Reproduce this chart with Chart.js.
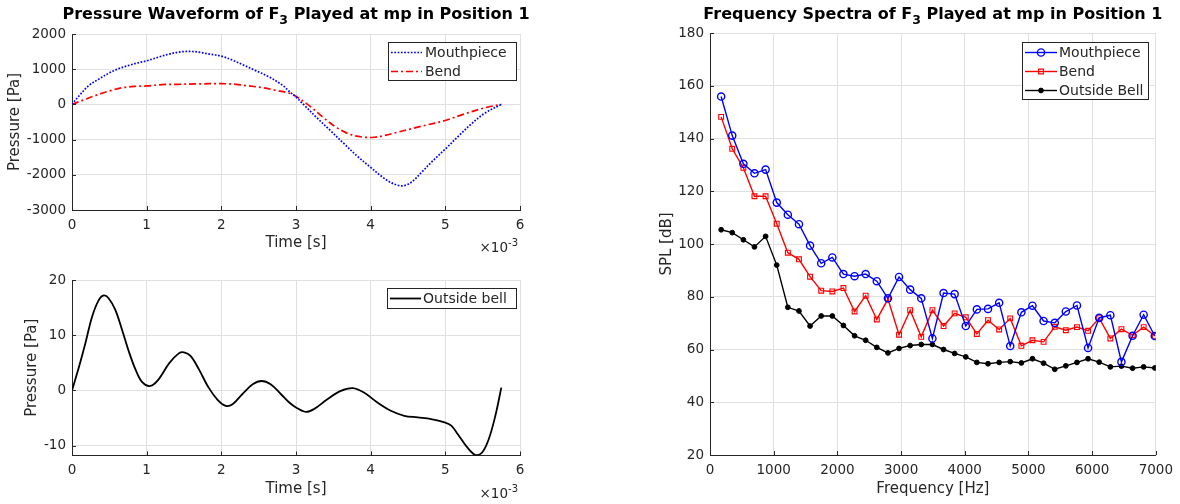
<!DOCTYPE html>
<html><head><meta charset="utf-8">
<script src="https://cdn.jsdelivr.net/npm/chart.js@4.4.1/dist/chart.umd.min.js"></script>
<style>
html,body{margin:0;padding:0;background:#fff}
body{width:1180px;height:504px;position:relative;overflow:hidden}
canvas{position:absolute}
</style></head><body>
<canvas id="ca" width="560" height="262" style="left:0;top:0"></canvas>
<canvas id="cb" width="560" height="242" style="left:0;top:262px"></canvas>
<canvas id="cc" width="580" height="504" style="left:600px;top:0"></canvas>
<script>
// ---------- DATA ----------
// time axis in units of 1e-3 s (as labelled ×10^-3)
const timeTicks = [0, 1, 2, 3, 4, 5, 6];
const pressureTicksTop = [-3000, -2000, -1000, 0, 1000, 2000];
const pressureTicksBottom = [-10, 0, 10, 20];
const freqTicks = [0, 1000, 2000, 3000, 4000, 5000, 6000, 7000];
const splTicks = [20, 40, 60, 80, 100, 120, 140, 160, 180];

const tMouth = [0, 0.1, 0.23, 0.37, 0.5, 0.63, 0.77, 0.9, 1.0, 1.17, 1.3, 1.43, 1.57, 1.7, 1.84, 2.0, 2.15, 2.28, 2.46, 2.64, 2.82, 2.92, 3.0, 3.1, 3.28, 3.46, 3.64, 3.82, 4.0, 4.15, 4.28, 4.42, 4.54, 4.68, 4.81, 5.0, 5.17, 5.35, 5.53, 5.75];
const pMouth = [0, 257, 543, 733, 895, 1019, 1114, 1190, 1238, 1352, 1429, 1486, 1505, 1486, 1429, 1371, 1257, 1133, 960, 781, 543, 352, 210, 0, -381, -743, -1110, -1470, -1790, -2050, -2230, -2314, -2219, -1933, -1648, -1267, -914, -552, -248, 0];

const tBend = [0, 0.14, 0.32, 0.5, 0.68, 0.86, 1.0, 1.21, 1.43, 1.66, 2.0, 2.19, 2.37, 2.55, 2.73, 2.9, 3.0, 3.19, 3.37, 3.55, 3.73, 3.91, 4.05, 4.18, 4.36, 4.54, 4.72, 5.0, 5.26, 5.53, 5.75];
const pBend = [0, 114, 257, 381, 476, 515, 525, 562, 571, 581, 590, 571, 524, 476, 400, 324, 229, -57, -381, -667, -857, -933, -933, -886, -790, -695, -600, -457, -267, -95, 0];

const tBell = [0, 0.09, 0.18, 0.27, 0.36, 0.425, 0.49, 0.58, 0.67, 0.76, 0.85, 0.94, 1.05, 1.16, 1.3, 1.43, 1.5, 1.59, 1.7, 1.83, 1.95, 2.06, 2.15, 2.28, 2.42, 2.54, 2.66, 2.8, 2.91, 3.0, 3.13, 3.24, 3.42, 3.6, 3.76, 3.91, 4.09, 4.27, 4.45, 4.63, 4.81, 4.99, 5.08, 5.17, 5.28, 5.4, 5.49, 5.58, 5.67, 5.75];
const pBell = [0, 4.1, 8.6, 13.4, 16.4, 17.2, 16.7, 14.6, 11.0, 7.1, 3.8, 1.5, 0.8, 2.0, 4.9, 6.7, 6.9, 6.2, 3.8, 0.5, -1.7, -2.8, -2.5, -0.7, 1.1, 1.7, 1.1, -0.7, -2.2, -3.1, -3.9, -3.4, -1.6, -0.1, 0.4, -0.4, -2.2, -3.7, -4.6, -4.9, -5.2, -5.8, -6.4, -8.0, -10.1, -11.7, -11.3, -8.9, -4.6, 0.5];

const freqHz = [175, 349, 524, 698, 873, 1048, 1222, 1397, 1571, 1746, 1921, 2095, 2270, 2444, 2619, 2794, 2968, 3143, 3317, 3492, 3667, 3841, 4016, 4190, 4365, 4540, 4714, 4889, 5063, 5238, 5413, 5587, 5762, 5936, 6111, 6286, 6460, 6635, 6809, 6984];
const splMouth = [155.9, 141.1, 130.4, 126.8, 128.2, 115.7, 111.1, 107.5, 99.4, 92.7, 94.9, 88.6, 87.8, 88.6, 85.9, 79.4, 87.5, 82.7, 79.4, 64.2, 81.4, 81.0, 68.9, 75.2, 75.4, 77.7, 61.3, 74.1, 76.6, 70.8, 70.1, 74.4, 76.7, 60.6, 72.0, 73.0, 55.3, 65.2, 73.2, 65.1];
const splBend = [148.2, 136.1, 128.9, 118.1, 118.1, 107.7, 96.7, 94.2, 87.6, 82.3, 82.0, 83.3, 74.4, 80.4, 71.4, 79.1, 65.6, 74.9, 64.8, 74.9, 68.9, 73.7, 72.2, 65.9, 71.1, 67.6, 71.8, 61.4, 63.5, 62.9, 68.6, 67.3, 68.5, 67.1, 71.9, 64.2, 67.7, 65.4, 68.5, 65.2];
const splBell = [105.4, 104.3, 101.6, 98.9, 102.9, 92.0, 76.0, 74.6, 68.9, 72.7, 72.7, 69.1, 65.2, 63.5, 60.8, 58.7, 60.4, 61.5, 61.9, 61.9, 60.0, 58.5, 57.2, 55.1, 54.6, 55.1, 55.4, 54.9, 56.5, 54.8, 52.5, 53.8, 55.1, 56.5, 55.2, 53.4, 53.7, 52.9, 53.4, 53.0];

const titleWave = ['Pressure Waveform of F', '3', ' Played at mp in Position 1'];
const titleSpec = ['Frequency Spectra of F', '3', ' Played at mp in Position 1'];

// ---------- STYLE ----------
const FONT = "'DejaVu Sans', sans-serif";
const AX = '#262626';
const GRID = '#e0e0e0';
Chart.defaults.font.family = FONT;
Chart.defaults.color = AX;

const pts = (xs, ys) => xs.map((x, i) => ({x, y: ys[i]}));
const fixTicks = arr => (s => { s.ticks = arr.map(v => ({value: v})); });

const titlePlugin = {
  id: 'subTitle',
  afterDraw(chart, a, o) {
    if (!o.parts) return;
    const ctx = chart.ctx, ca = chart.chartArea;
    const fMain = `bold ${o.size}px ${FONT}`, fSub = `bold ${o.subSize}px ${FONT}`;
    ctx.save();
    ctx.fillStyle = '#000';
    ctx.textBaseline = 'alphabetic';
    ctx.font = fMain; const w0 = ctx.measureText(o.parts[0]).width, w2 = ctx.measureText(o.parts[2]).width;
    ctx.font = fSub; const w1 = ctx.measureText(o.parts[1]).width;
    let x = (ca.left + ca.right) / 2 - (w0 + w1 + w2) / 2;
    ctx.textAlign = 'left';
    ctx.font = fMain; ctx.fillText(o.parts[0], x, o.y); x += w0;
    ctx.font = fSub; ctx.fillText(o.parts[1], x, o.y + o.subDrop); x += w1;
    ctx.font = fMain; ctx.fillText(o.parts[2], x, o.y);
    ctx.restore();
  }
};

const expPlugin = {
  id: 'expLabel',
  afterDraw(chart, a, o) {
    if (!o.show) return;
    const ctx = chart.ctx;
    ctx.save();
    ctx.fillStyle = AX; ctx.textBaseline = 'alphabetic'; ctx.textAlign = 'left';
    ctx.font = `13.5px ${FONT}`;
    const base = '\u00d710';
    const wb = ctx.measureText(base).width;
    ctx.font = `10px ${FONT}`;
    const ws = ctx.measureText('-3').width;
    const x0 = o.right - wb - ws;
    ctx.font = `13.5px ${FONT}`; ctx.fillText(base, x0, o.y);
    ctx.font = `10px ${FONT}`; ctx.fillText('-3', x0 + wb, o.y - 6);
    ctx.restore();
  }
};

const inTicks = {
  id: 'inTicks',
  afterDraw(chart) {
    const ctx = chart.ctx, ca = chart.chartArea, xs = chart.scales.x, ys = chart.scales.y;
    ctx.save(); ctx.strokeStyle = AX; ctx.lineWidth = 1; ctx.beginPath();
    xs.ticks.forEach(t => { const px = Math.round(xs.getPixelForValue(t.value)) + 0.5; ctx.moveTo(px, ca.bottom); ctx.lineTo(px, ca.bottom - 4); });
    ys.ticks.forEach(t => { const py = Math.round(ys.getPixelForValue(t.value)) + 0.5; ctx.moveTo(ca.left, py); ctx.lineTo(ca.left + 4, py); });
    ctx.stroke(); ctx.restore();
  }
};

const boxLegend = {
  id: 'boxLegend',
  afterDraw(chart, a, o) {
    const ctx = chart.ctx;
    ctx.save();
    ctx.fillStyle = '#fff'; ctx.fillRect(o.x, o.y, o.w, o.h);
    ctx.strokeStyle = AX; ctx.lineWidth = 1; ctx.setLineDash([]);
    ctx.strokeRect(o.x + 0.5, o.y + 0.5, o.w, o.h);
    chart.data.datasets.forEach((ds, i) => {
      const yy = o.y + o.row0 + i * o.rowH;
      ctx.strokeStyle = ds.borderColor; ctx.lineWidth = ds.borderWidth;
      ctx.setLineDash(ds.borderDash || []);
      ctx.beginPath(); ctx.moveTo(o.x + o.lx0, yy); ctx.lineTo(o.x + o.lx1, yy); ctx.stroke();
      ctx.setLineDash([]);
      if (ds.pointRadius > 0) {
        ctx.fillStyle = ds.pointBackgroundColor; ctx.strokeStyle = ds.borderColor; ctx.lineWidth = ds.pointBorderWidth;
        Chart.helpers.drawPoint(ctx, {pointStyle: ds.pointStyle, radius: ds.pointRadius, borderWidth: ds.pointBorderWidth, rotation: 0}, o.x + (o.lx0 + o.lx1) / 2, yy);
      }
      ctx.fillStyle = AX; ctx.font = `14px ${FONT}`; ctx.textBaseline = 'middle'; ctx.textAlign = 'left';
      ctx.fillText(ds.label, o.x + o.tx, yy + 1);
    });
    ctx.restore();
  }
};

const plain = v => String(v);
function axisX(min, max, ticks, label, h, pb) {
  return {
    type: 'linear', min, max,
    afterBuildTicks: fixTicks(ticks),
    afterFit: s => { s.height = h; },
    grid: {color: GRID, lineWidth: 1, drawTicks: false},
    border: {display: true, color: AX, width: 1},
    ticks: {padding: 7, color: AX, font: {size: 13.5}, maxRotation: 0, autoSkip: false, callback: plain},
    title: {display: true, text: label, color: AX, font: {size: 15}, padding: {top: 0, bottom: pb}}
  };
}
function axisY(min, max, ticks, label, w, pt) {
  return {
    type: 'linear', min, max,
    afterBuildTicks: fixTicks(ticks),
    afterFit: s => { s.width = w; },
    grid: {color: GRID, lineWidth: 1, drawTicks: false},
    border: {display: true, color: AX, width: 1},
    ticks: {padding: 6, color: AX, font: {size: 13.5}, autoSkip: false, callback: plain},
    title: {display: true, text: label, color: AX, font: {size: 15}, padding: {top: pt, bottom: 0}}
  };
}
const base = {
  responsive: false, animation: false, events: [],
  plugins: {legend: {display: false}, tooltip: {enabled: false}}
};

// ---------- CHART A ----------
new Chart(document.getElementById('ca'), {
  type: 'line',
  data: {datasets: [
    {label: 'Mouthpiece', data: pts(tMouth, pMouth), borderColor: '#0000ff', borderWidth: 1.7, borderDash: [1.7, 1.6], pointRadius: 0, tension: 0.35},
    {label: 'Bend', data: pts(tBend, pBend), borderColor: '#ff0000', borderWidth: 1.7, borderDash: [7, 3, 2, 3], pointRadius: 0, tension: 0.35}
  ]},
  options: Object.assign({}, base, {
    layout: {padding: {left: 0, top: 34, right: 40, bottom: 0}},
    scales: {x: axisX(0, 6, timeTicks, 'Time [s]', 52, 10), y: axisY(-3000, 2000, pressureTicksTop, 'Pressure [Pa]', 72, 6.5)},
    plugins: Object.assign({}, base.plugins, {
      subTitle: {parts: titleWave, size: 16, subSize: 12.5, y: 19, subDrop: 5},
      expLabel: {show: true, right: 518, y: 252},
      boxLegend: {x: 388, y: 42, w: 128, h: 38, row0: 10.5, rowH: 19, lx0: 3, lx1: 34, tx: 37}
    })
  }),
  plugins: [inTicks, boxLegend, titlePlugin, expPlugin]
});

// ---------- CHART B ----------
new Chart(document.getElementById('cb'), {
  type: 'line',
  data: {datasets: [
    {label: 'Outside bell', data: pts(tBell, pBell), borderColor: '#000000', borderWidth: 1.8, pointRadius: 0, tension: 0.35}
  ]},
  options: Object.assign({}, base, {
    layout: {padding: {left: 0, top: 18, right: 40, bottom: 0}},
    scales: {x: axisX(0, 6, timeTicks, 'Time [s]', 48.5, 6), y: axisY(-11.8, 20, pressureTicksBottom, 'Pressure [Pa]', 72, 23.5)},
    plugins: Object.assign({}, base.plugins, {
      expLabel: {show: true, right: 518, y: 236},
      boxLegend: {x: 387, y: 26, w: 129, h: 20, row0: 10.5, rowH: 19, lx0: 3, lx1: 34, tx: 36}
    })
  }),
  plugins: [inTicks, boxLegend, expPlugin]
});

// ---------- CHART C ----------
new Chart(document.getElementById('cc'), {
  type: 'line',
  data: {datasets: [
    {label: 'Mouthpiece', data: pts(freqHz, splMouth), borderColor: '#0000ff', borderWidth: 1.4, pointStyle: 'circle', pointRadius: 3.6, pointBorderWidth: 1.4, pointBackgroundColor: 'rgba(0,0,0,0)', pointBorderColor: '#0000ff', tension: 0},
    {label: 'Bend', data: pts(freqHz, splBend), borderColor: '#ff0000', borderWidth: 1.4, pointStyle: 'rect', pointRadius: 3.4, pointBorderWidth: 1.1, pointBackgroundColor: 'rgba(0,0,0,0)', pointBorderColor: '#ff0000', tension: 0},
    {label: 'Outside Bell', data: pts(freqHz, splBell), borderColor: '#000000', borderWidth: 1.4, pointStyle: 'circle', pointRadius: 2.4, pointBorderWidth: 1, pointBackgroundColor: '#000000', pointBorderColor: '#000000', tension: 0}
  ]},
  options: Object.assign({}, base, {
    layout: {padding: {left: 0, top: 33, right: 23, bottom: 0}},
    scales: {x: axisX(0, 7000, freqTicks, 'Frequency [Hz]', 49, 6), y: axisY(20, 180, splTicks, 'SPL [dB]', 110, 58)},
    plugins: Object.assign({}, base.plugins, {
      subTitle: {parts: titleSpec, size: 16, subSize: 12.5, y: 19, subDrop: 5},
      boxLegend: {x: 422, y: 42, w: 126, h: 57, row0: 10.5, rowH: 19, lx0: 3, lx1: 35, tx: 37}
    })
  }),
  plugins: [inTicks, boxLegend, titlePlugin]
});
</script>
</body></html>
